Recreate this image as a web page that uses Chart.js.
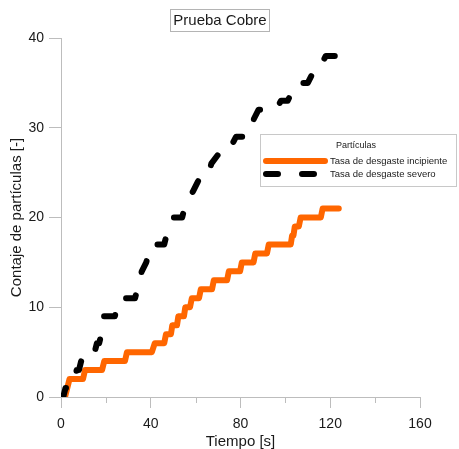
<!DOCTYPE html>
<html>
<head>
<meta charset="utf-8">
<script src="https://cdn.jsdelivr.net/npm/chart.js@4.4.0/dist/chart.umd.min.js"></script>
<style>
  html, body { margin: 0; padding: 0; background: #fff; }
</style>
</head>
<body>
<canvas id="chart" width="459" height="449"></canvas>
<script>
// Tasa de desgaste incipiente (esquinas de la escalera)
const tiempoIncipiente = [1.8, 3.8, 9.8, 10.7, 18.3, 19.3, 28.5, 29.4, 40.5, 41.8,
    46, 46.8, 49, 49.6, 51.7, 52.3, 54.8, 55.4, 57.5, 58.3,
    61.5, 62.3, 67.3, 68.1, 74, 74.8, 79.8, 80.6, 85.8, 86.6,
    91.8, 92.6, 102.4, 103, 103.6, 104.2, 106, 106.8, 115.8, 116.6, 123.8];
const particulasIncipiente = [0, 2, 2, 3, 3, 4, 4, 5, 5, 6,
    6, 7, 7, 8, 8, 9, 9, 10, 10, 11,
    11, 12, 12, 13, 13, 14, 14, 15, 15, 16,
    16, 17, 17, 18, 18, 19, 19, 20, 20, 21, 21];

// Tasa de desgaste severo
const tiempoSevero = [0, 1, 2, 4, 5, 6, 7, 8, 9, 12, 13, 15, 16, 17, 18, 18.5, 19, 24, 25, 27,
    28, 33, 34, 35, 36, 38, 39, 40, 46, 47, 49, 50, 54, 55, 57, 59, 61, 63, 66, 67,
    70, 72, 74, 76, 78, 81, 83, 85, 86, 88, 96, 98, 101, 103, 105, 107, 110, 112, 114, 116,
    118, 125];
const particulasSevero = [0, 0, 1, 1, 2, 2, 3, 3, 4, 4, 5, 5, 6, 6, 7, 8, 9, 9, 10, 10,
    11, 11, 12, 13, 14, 15, 16, 17, 17, 18, 19, 20, 20, 21, 22, 23, 24, 25, 25, 26,
    27, 27, 28, 28, 29, 29, 30, 30, 31, 32, 32, 33, 33, 34, 34, 35, 35, 36, 36, 37,
    38, 38];

const seriesNombres = ['Tasa de desgaste incipiente', 'Tasa de desgaste severo'];
const tituloLeyenda = 'Partículas';
const titulo = 'Prueba Cobre';
const tiempoMenores = [20, 60, 100, 140];

const fuente = '"Liberation Sans", Arial, sans-serif';
const colorEje = '#bdbdbd';
const colorTexto = '#1a1a1a';

Chart.defaults.font.family = fuente;
Chart.defaults.color = colorTexto;

const puntos = (xs, ys) => xs.map((x, i) => ({ x, y: ys[i] }));

// marcas menores del eje X (sin etiqueta)
const marcasMenores = {
    id: 'marcasMenores',
    afterDraw(chart) {
        const { ctx, scales: { x } } = chart;
        ctx.save();
        ctx.strokeStyle = colorEje;
        ctx.lineWidth = 1;
        tiempoMenores.forEach(v => {
            const px = Math.round(x.getPixelForValue(v)) + 0.5;
            ctx.beginPath();
            ctx.moveTo(px, x.top);
            ctx.lineTo(px, x.top + 6);
            ctx.stroke();
        });
        ctx.restore();
    }
};

// título dentro de un recuadro
const cajaTitulo = {
    id: 'cajaTitulo',
    afterDraw(chart) {
        const ctx = chart.ctx;
        ctx.save();
        ctx.font = '15px ' + fuente;
        const w = ctx.measureText(titulo).width;
        const cx = 220;
        ctx.strokeStyle = '#b4b4b4';
        ctx.lineWidth = 1;
        ctx.strokeRect(Math.round(cx - w / 2 - 3) + 0.5, 9.5, Math.round(w + 6), 22);
        ctx.fillStyle = colorTexto;
        ctx.textAlign = 'center';
        ctx.textBaseline = 'middle';
        ctx.fillText(titulo, cx, 21);
        ctx.restore();
    }
};

// leyenda con recuadro y título
const leyendaCaja = {
    id: 'leyendaCaja',
    afterDraw(chart) {
        const ctx = chart.ctx;
        const bx = 260, by = 134, bw = 196, bh = 52;
        ctx.save();
        ctx.fillStyle = '#fff';
        ctx.fillRect(bx, by, bw, bh);
        ctx.strokeStyle = '#c8c8c8';
        ctx.lineWidth = 1;
        ctx.strokeRect(bx + 0.5, by + 0.5, bw, bh);

        ctx.fillStyle = colorTexto;
        ctx.textBaseline = 'middle';
        ctx.textAlign = 'center';
        ctx.font = '9px ' + fuente;
        ctx.fillText(tituloLeyenda, bx + 96, by + 12);

        ctx.textAlign = 'left';
        ctx.font = '9.5px ' + fuente;
        chart.data.datasets.forEach((ds, i) => {
            const y = by + 27 + i * 13;
            ctx.strokeStyle = ds.borderColor;
            ctx.lineWidth = ds.borderWidth;
            ctx.lineCap = 'round';
            ctx.setLineDash(ds.borderDash || []);
            ctx.beginPath();
            ctx.moveTo(bx + 6, y);
            ctx.lineTo(bx + 65, y);
            ctx.stroke();
            ctx.setLineDash([]);
            ctx.fillText(ds.label, bx + 70, y);
        });
        ctx.restore();
    }
};

new Chart(document.getElementById('chart'), {
    type: 'line',
    data: {
        datasets: [
            {
                label: seriesNombres[0],
                data: puntos(tiempoIncipiente, particulasIncipiente),
                borderColor: '#ff6600',
                borderWidth: 6,
                borderCapStyle: 'round',
                borderJoinStyle: 'round',
                pointRadius: 0,
                fill: false,
                tension: 0,
                order: 2,
            },
            {
                label: seriesNombres[1],
                data: puntos(tiempoSevero, particulasSevero),
                borderColor: '#000000',
                borderWidth: 6,
                borderDash: [12, 24],
                borderCapStyle: 'round',
                borderJoinStyle: 'round',
                pointRadius: 0,
                fill: false,
                tension: 0,
                order: 1,
            }
        ]
    },
    options: {
        responsive: false,
        animation: false,
        layout: { padding: { top: 38, right: 39, left: 0, bottom: 0 } },
        plugins: { legend: { display: false }, tooltip: { enabled: false } },
        scales: {
            x: {
                type: 'linear',
                min: 0, max: 160,
                ticks: { stepSize: 40, padding: 8, font: { size: 14 }, color: colorTexto },
                grid: { drawOnChartArea: false, tickLength: 11, color: colorEje },
                border: { color: colorEje },
                title: { display: true, text: 'Tiempo [s]', font: { size: 15, lineHeight: 1 }, color: colorTexto, padding: { top: 0, bottom: 0 } },
                afterFit: s => { s.height = 52; }
            },
            y: {
                min: 0, max: 40,
                ticks: { stepSize: 10, padding: 5, font: { size: 14 }, color: colorTexto },
                grid: { drawOnChartArea: false, tickLength: 12, color: colorEje },
                border: { color: colorEje },
                title: { display: true, text: 'Contaje de partículas [-]', font: { size: 15 }, color: colorTexto, padding: { top: 8, bottom: 0 } },
                afterFit: s => { s.width = 61; }
            }
        }
    },
    plugins: [marcasMenores, cajaTitulo, leyendaCaja]
});
</script>
</body>
</html>
